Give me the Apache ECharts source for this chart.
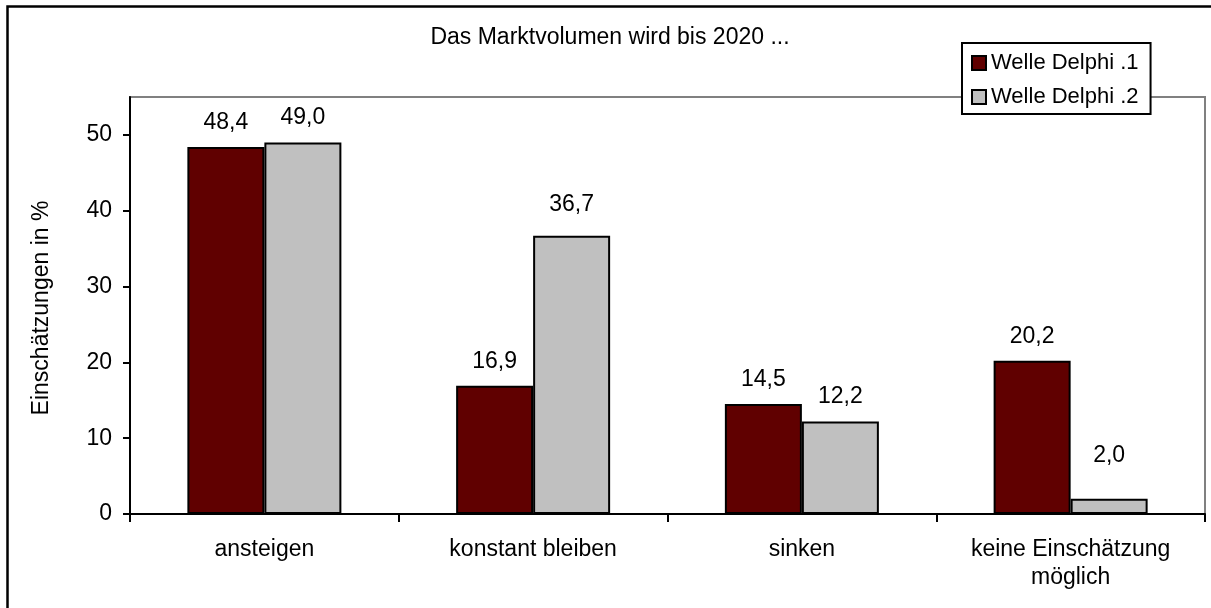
<!DOCTYPE html>
<html>
<head>
<meta charset="utf-8">
<script src="https://cdn.jsdelivr.net/npm/echarts@6/dist/echarts.min.js"></script>
<style>
html,body{margin:0;padding:0;background:#fff;}
#chart{width:1211px;height:608px;}
</style>
</head>
<body>
<div id="chart"></div>
<script>
var titleText = 'Das Marktvolumen wird bis 2020 ...';
var yAxisTitle = 'Einschätzungen in %';
var categories = ['ansteigen', 'konstant bleiben', 'sinken', 'keine Einschätzung\nmöglich'];
var seriesNames = ['Welle Delphi .1', 'Welle Delphi .2'];
var welle1 = [48.4, 16.9, 14.5, 20.2];
var welle2 = [49.0, 36.7, 12.2, 2.0];
var yTicks = [0, 10, 20, 30, 40, 50];
var yMax = 55;

var FONT = "Arial, 'Liberation Sans', sans-serif";
var FS = 23;
var chart = echarts.init(document.getElementById('chart'), null, {renderer: 'canvas'});

function fmt(p) { return p.value.toFixed(1).replace('.', ','); }

function labelCfg(extra) {
  return {
    show: true, position: 'top', distance: 13 + (extra || 0),
    fontFamily: FONT, fontSize: FS, color: '#000', formatter: fmt
  };
}

// Excel placed a couple of the value labels a little higher than the rest
var w2Items = welle2.map(function (v, i) {
  var extra = i === 1 ? 7 : (i === 3 ? 19 : 0);
  return {value: v, label: labelCfg(extra)};
});

chart.setOption({
  animation: false,
  backgroundColor: '#fff',
  textStyle: {fontFamily: FONT},
  grid: {
    left: 130, right: 6, top: 97, bottom: 94,
    show: true, borderColor: '#808080', borderWidth: 2, backgroundColor: 'transparent'
  },
  legend: {
    orient: 'vertical',
    left: 962, top: 43,
    padding: [9, 12, 6, 9],
    itemGap: 12,
    itemWidth: 14, itemHeight: 14,
    itemTextGap: 8,
    icon: 'rect',
    backgroundColor: '#fff',
    borderColor: '#000', borderWidth: 2,
    textStyle: {fontFamily: FONT, fontSize: 22, color: '#000'},
    data: seriesNames
  },
  xAxis: {
    type: 'category',
    data: categories,
    axisLine: {lineStyle: {color: '#000', width: 2}},
    axisTick: {show: true, length: 8, lineStyle: {color: '#000', width: 2}},
    axisLabel: {fontFamily: FONT, fontSize: FS, color: '#000', margin: 22, lineHeight: 28, interval: 0}
  },
  yAxis: {
    type: 'value',
    min: 0, max: yMax, interval: 10,
    splitLine: {show: false},
    axisLine: {show: true, lineStyle: {color: '#000', width: 2}},
    axisTick: {show: true, length: 7, lineStyle: {color: '#000', width: 2}, customValues: yTicks},
    axisLabel: {fontFamily: FONT, fontSize: FS, color: '#000', margin: 18, customValues: yTicks}
  },
  series: [
    {
      name: seriesNames[0], type: 'bar', data: welle1,
      barWidth: 77, barGap: '0%',
      itemStyle: {color: '#600000', borderColor: '#000', borderWidth: 2},
      label: labelCfg(0)
    },
    {
      name: seriesNames[1], type: 'bar', data: w2Items,
      barWidth: 77, barGap: '0%',
      itemStyle: {color: '#C0C0C0', borderColor: '#000', borderWidth: 2},
      label: labelCfg(0)
    }
  ],
  graphic: [
    {
      type: 'rect', silent: true, z: 100,
      shape: {x: 7.5, y: 6.5, width: 1300, height: 700},
      style: {fill: null, stroke: '#000', lineWidth: 2.5}
    },
    {
      type: 'text', silent: true,
      x: 610, y: 38,
      style: {text: titleText, font: FS + 'px ' + FONT, fill: '#000', align: 'center', verticalAlign: 'middle'}
    },
    {
      type: 'text', silent: true,
      x: 42, y: 308, rotation: Math.PI / 2,
      style: {text: yAxisTitle, font: FS + 'px ' + FONT, fill: '#000', align: 'center', verticalAlign: 'middle'}
    }
  ]
});
</script>
</body>
</html>
